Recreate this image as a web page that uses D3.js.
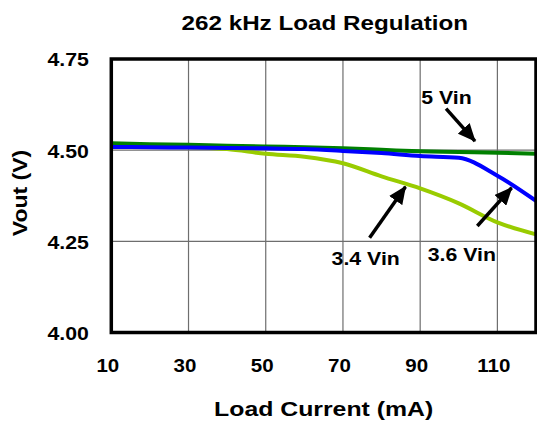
<!DOCTYPE html>
<html>
<head>
<meta charset="utf-8">
<script src="https://cdn.jsdelivr.net/npm/d3@7"></script>
<style>
  body { margin: 0; background: #fff; }
  text { font-family: "Liberation Sans", Arial, sans-serif; font-weight: bold; fill: #000; }
</style>
</head>
<body>
<div id="chart"></div>
<script>
// chart values
const currents = [10, 20, 30, 40, 50, 60, 70, 80, 90, 100, 110, 120];
const vin5  = [4.519, 4.516, 4.515, 4.512, 4.510, 4.508, 4.505, 4.501, 4.497, 4.495, 4.493, 4.490];
const vin36 = [4.509, 4.508, 4.507, 4.506, 4.505, 4.503, 4.498, 4.492, 4.484, 4.479, 4.430, 4.361];
const vin34 = [4.512, 4.510, 4.508, 4.503, 4.490, 4.482, 4.464, 4.428, 4.395, 4.354, 4.302, 4.269];
const seriesNames = ["3.4 Vin", "3.6 Vin", "5 Vin"];
const xTicks = [10, 30, 50, 70, 90, 110];
const yTicks = [4.00, 4.25, 4.50, 4.75];

// arrow callouts, in data units (mA, V)
const callouts = [
  { label: "5 Vin",   at: [96.8, 4.627],  tail: [96.7, 4.614],  tip: [104.2, 4.525] },
  { label: "3.4 Vin", at: [75.9, 4.185],  tail: [76.9, 4.260],  tip: [86.2, 4.400] },
  { label: "3.6 Vin", at: [100.8, 4.196], tail: [104.8, 4.292], tip: [113.7, 4.397] }
];

const width = 537, height = 423;
const plot = { left: 111.3, right: 536, top: 59, bottom: 332.5 };

const svg = d3.select("#chart").append("svg")
  .attr("width", width)
  .attr("height", height);

const x = d3.scaleLinear().domain([10, 120]).range([plot.left, plot.right]);
const y = d3.scaleLinear().domain([4.0, 4.75]).range([plot.bottom, plot.top]);

// the picture's lettering is a little wider than Arial, so stretch it
function widen(sel, k) {
  sel.each(function () {
    const w = this.getComputedTextLength();
    d3.select(this).attr("textLength", w * k).attr("lengthAdjust", "spacingAndGlyphs");
  });
}

// grid
svg.append("g")
  .selectAll("line")
  .data(xTicks.filter(d => d > 10))
  .join("line")
  .attr("x1", d => x(d)).attr("x2", d => x(d))
  .attr("y1", plot.top).attr("y2", plot.bottom)
  .attr("stroke", "#6e6e6e").attr("stroke-width", 1.2);

svg.append("g")
  .selectAll("line")
  .data(yTicks.filter(d => d > 4 && d < 4.75))
  .join("line")
  .attr("x1", plot.left).attr("x2", plot.right)
  .attr("y1", d => y(d)).attr("y2", d => y(d))
  .attr("stroke", "#6e6e6e").attr("stroke-width", 1.2);

// series
const series = [
  { name: seriesNames[0], values: vin34, color: "#99cc00" },
  { name: seriesNames[2], values: vin5,  color: "#008000" },
  { name: seriesNames[1], values: vin36, color: "#0000ff" }
];

const line = d3.line()
  .x((d, i) => x(currents[i]))
  .y(d => y(d))
  .curve(d3.curveMonotoneX);

svg.append("g")
  .selectAll("path")
  .data(series)
  .join("path")
  .attr("d", d => line(d.values))
  .attr("fill", "none")
  .attr("stroke", d => d.color)
  .attr("stroke-width", 4)
  .attr("stroke-linejoin", "round");

// plot frame
svg.append("rect")
  .attr("x", plot.left).attr("y", plot.top)
  .attr("width", plot.right - plot.left)
  .attr("height", plot.bottom - plot.top)
  .attr("fill", "none")
  .attr("stroke", "#000")
  .attr("stroke-width", 3.5);

// axes (labels only, the frame is the axis line)
const yAxis = svg.append("g")
  .attr("transform", `translate(${plot.left - 22.5},0)`)
  .call(d3.axisLeft(y).tickValues(yTicks).tickFormat(d3.format(".2f")).tickSize(0).tickPadding(0));
yAxis.select(".domain").remove();
yAxis.selectAll("text")
  .attr("font-size", 19)
  .attr("dy", "0.36em")
  .call(widen, 1.12);

const xAxis = svg.append("g")
  .attr("transform", `translate(-4,${plot.bottom})`)
  .call(d3.axisBottom(x).tickValues(xTicks).tickFormat(d3.format("d")).tickSize(0).tickPadding(0));
xAxis.select(".domain").remove();
xAxis.selectAll("text")
  .attr("font-size", 19)
  .attr("y", 39)
  .attr("dy", 0)
  .call(widen, 1.08);

// title and axis titles
svg.append("text")
  .attr("x", 324.8).attr("y", 30)
  .attr("text-anchor", "middle")
  .attr("font-size", 20)
  .text("262 kHz Load Regulation")
  .call(widen, 1.21);

svg.append("text")
  .attr("x", (plot.left + plot.right) / 2).attr("y", 416)
  .attr("text-anchor", "middle")
  .attr("font-size", 20)
  .text("Load Current (mA)")
  .call(widen, 1.24);

svg.append("text")
  .attr("transform", "translate(26.7,193) rotate(-90)")
  .attr("text-anchor", "middle")
  .attr("font-size", 20)
  .text("Vout (V)")
  .call(widen, 1.15);

// callouts
svg.append("defs").append("marker")
  .attr("id", "head")
  .attr("markerUnits", "userSpaceOnUse")
  .attr("viewBox", "0 -8 18 16")
  .attr("refX", 17).attr("refY", 0)
  .attr("markerWidth", 18).attr("markerHeight", 16)
  .attr("orient", "auto")
  .append("path")
  .attr("d", "M0,-8L18,0L0,8Z")
  .attr("fill", "#000");

svg.append("g")
  .selectAll("line")
  .data(callouts)
  .join("line")
  .attr("x1", d => x(d.tail[0])).attr("y1", d => y(d.tail[1]))
  .attr("x2", d => x(d.tip[0])).attr("y2", d => y(d.tip[1]))
  .attr("stroke", "#000")
  .attr("stroke-width", 3.5)
  .attr("marker-end", "url(#head)");

svg.append("g")
  .selectAll("text")
  .data(callouts)
  .join("text")
  .attr("x", d => x(d.at[0])).attr("y", d => y(d.at[1]))
  .attr("text-anchor", "middle")
  .attr("font-size", 19)
  .text(d => d.label)
  .call(widen, 1.12);
</script>
</body>
</html>
